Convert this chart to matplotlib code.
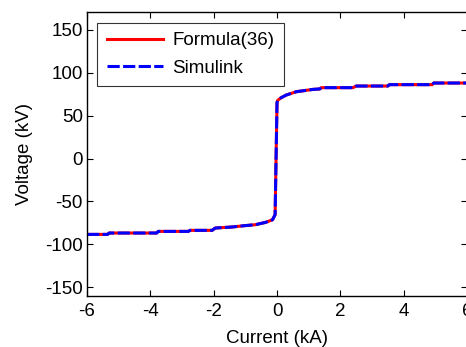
import matplotlib.pyplot as plt

plt.rcParams['font.family'] = ['Liberation Sans', 'DejaVu Sans']
plt.rcParams['axes.unicode_minus'] = False

# V-I characteristic, formula vs Simulink model
current_kA = [-6.0, -5.35, -5.3, -3.8, -3.75, -2.8, -2.75, -2.05, -1.95, -1.42,
              -1.04, -0.68, -0.36, -0.14, -0.06, 0.0, 0.02, 0.13, 0.29, 0.61,
              1.14, 1.35, 1.4, 2.4, 2.5, 3.5, 3.55, 4.9, 4.95, 6.0]
voltage_kV = [-88.3, -88.3, -86.7, -86.7, -84.8, -84.8, -83.6, -83.6, -80.9, -79.7,
              -78.2, -77.0, -74.3, -71.2, -65.3, 65.0, 67.7, 70.8, 73.9, 77.8,
              80.5, 81.0, 82.5, 82.5, 84.4, 84.4, 86.0, 86.0, 87.9, 87.9]

xticks = [-6, -4, -2, 0, 2, 4, 6]
yticks = [-150, -100, -50, 0, 50, 100, 150]

fig = plt.figure(figsize=(4.66, 3.47), dpi=100)
ax = fig.add_axes([0.1867, 0.147, 0.8155, 0.817])

ax.plot(current_kA, voltage_kV, color='red', lw=2.2, label='Formula(36)')
ax.plot(current_kA, voltage_kV, color='blue', lw=2.2, dashes=(4.0, 1.1),
        label='Simulink')

ax.set_xlim(-6, 6)
ax.set_ylim(-160, 170)
ax.set_xticks(xticks)
ax.set_yticks(yticks)
ax.tick_params(direction='in', top=True, right=True, length=4, width=0.8,
               labelsize=13.5)
ax.tick_params(axis='x', pad=5)
ax.tick_params(axis='y', pad=3)
for s in ax.spines.values():
    s.set_linewidth(1.0)

ax.set_xlabel('Current (kA)', fontsize=13.5, labelpad=7)
ax.set_ylabel('Voltage (kV)', fontsize=13.5, labelpad=9)

leg = ax.legend(loc='upper left', fontsize=13.5, frameon=True, fancybox=False,
                edgecolor='black', borderaxespad=0.55, handlelength=3.0,
                borderpad=0.5, labelspacing=0.55, handletextpad=0.5)
leg.get_frame().set_linewidth(0.8)

fig.savefig('out.png', dpi=100)
